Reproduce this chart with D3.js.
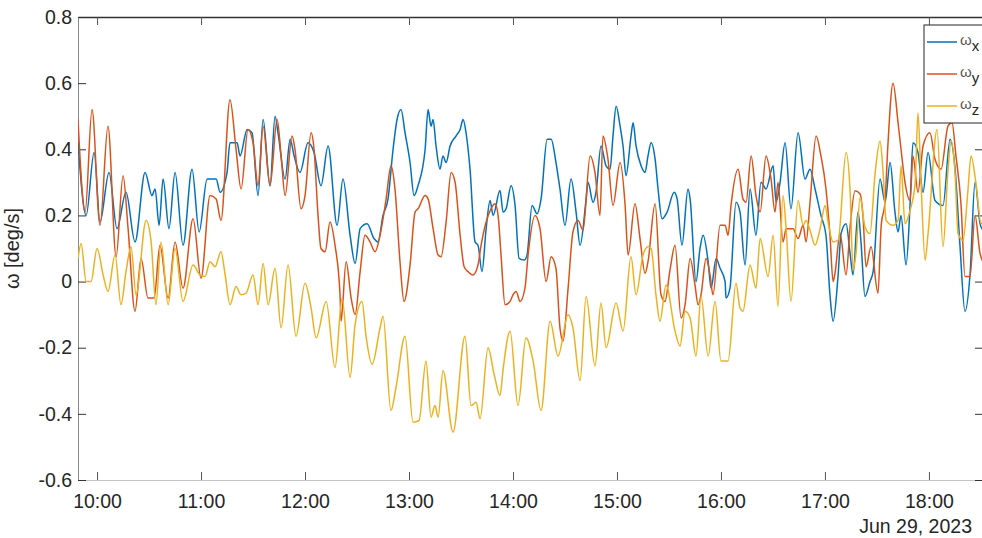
<html>
<head>
  <script src="https://d3js.org/d3.v7.min.js"></script>
  <style>
    body { margin: 0; background: #fff; font-family: Arial, "Liberation Sans", sans-serif; }
    .tick text { fill: #262626; font-size: 19.5px; font-family: Arial, "Liberation Sans", sans-serif; }
  </style>
</head>
<body>
<svg id="chart" width="982" height="538"></svg>
<script>
// time = minutes after 10:00 on Jun 29, 2023, value = deg/s
const wx = [[-11.0,0.42],[-6.3,0.20],[-1.7,0.39],[1.7,0.18],[6.9,0.33],[11.5,0.16],[16.7,0.27],[21.9,0.12],[27.7,0.33],[31.7,0.26],[33.5,0.28],[35.8,0.17],[38.1,0.31],[41.5,0.16],[45.0,0.33],[49.6,0.11],[54.8,0.34],[58.9,0.15],[63.5,0.31],[68.7,0.31],[71.0,0.27],[75.0,0.33],[76.7,0.42],[80.8,0.42],[82.5,0.38],[86.6,0.46],[89.4,0.45],[92.9,0.26],[95.8,0.49],[99.8,0.29],[102.7,0.50],[104.4,0.45],[108.5,0.31],[111.4,0.43],[113.7,0.38],[117.1,0.33],[121.7,0.42],[125.2,0.39],[129.2,0.29],[133.3,0.41],[138.5,0.17],[141.9,0.31],[146.0,0.14],[148.9,0.055],[151.8,0.16],[155.8,0.175],[159.8,0.13],[162.1,0.12],[165.0,0.20],[167.9,0.25],[170.8,0.40],[173.1,0.49],[175.4,0.52],[177.7,0.45],[180.6,0.36],[182.9,0.26],[185.2,0.29],[189.3,0.40],[191.0,0.52],[192.7,0.47],[193.9,0.49],[195.6,0.41],[197.9,0.34],[199.6,0.38],[201.4,0.36],[203.7,0.41],[207.1,0.44],[209.5,0.46],[211.2,0.49],[212.9,0.45],[215.2,0.34],[218.1,0.12],[219.8,0.11],[222.1,0.03],[224.5,0.16],[226.8,0.245],[228.5,0.20],[232.5,0.275],[234.3,0.21],[236.0,0.22],[238.9,0.29],[241.2,0.23],[243.5,0.07],[246.4,0.065],[248.1,0.08],[251.0,0.23],[253.9,0.205],[256.2,0.25],[259.7,0.43],[262.0,0.43],[264.8,0.36],[267.1,0.28],[270.0,0.17],[273.5,0.31],[276.4,0.21],[278.7,0.11],[282.2,0.25],[283.3,0.30],[286.2,0.24],[287.9,0.27],[290.8,0.41],[293.7,0.35],[296.0,0.34],[297.7,0.44],[299.5,0.53],[301.8,0.47],[303.5,0.41],[305.2,0.32],[308.1,0.44],[309.3,0.48],[311.0,0.41],[313.9,0.35],[316.2,0.33],[317.9,0.38],[319.7,0.42],[322.0,0.37],[323.7,0.28],[326.0,0.19],[328.9,0.21],[333.0,0.27],[334.7,0.25],[337.5,0.11],[341.0,0.28],[342.2,0.25],[345.6,0.00],[347.9,0.10],[349.7,0.14],[352.6,0.06],[354.3,-0.02],[357.2,0.07],[359.5,0.04],[362.4,0.00],[362.9,-0.05],[365.2,-0.02],[368.7,0.24],[371.0,0.21],[373.9,0.05],[376.8,0.28],[380.2,0.14],[383.1,0.30],[386.0,0.28],[390.1,0.35],[391.8,0.24],[394.1,0.30],[397.0,0.42],[400.4,0.22],[404.5,0.45],[408.5,0.31],[411.4,0.34],[414.3,0.28],[417.7,0.20],[420.6,0.14],[422.9,-0.04],[424.7,-0.12],[427.6,0.02],[429.3,0.145],[432.2,0.175],[434.5,0.085],[436.2,0.02],[439.1,0.21],[440.8,0.12],[443.1,-0.045],[446.0,0.00],[447.8,0.03],[451.8,0.31],[454.7,0.24],[457.6,0.36],[460.4,0.21],[462.2,0.15],[463.9,0.20],[466.8,0.05],[469.1,0.23],[470.8,0.42],[473.7,0.39],[476.6,0.27],[479.5,0.39],[483.5,0.245],[488.1,0.23],[492.2,0.43],[495.1,0.34],[497.9,0.11],[500.8,-0.09],[503.7,0.02],[506.6,0.30],[509.5,0.175],[511.2,0.155]];

const wy = [[-11.0,0.49],[-6.9,0.21],[-2.9,0.52],[1.7,0.17],[6.3,0.47],[11.0,0.075],[15.0,0.32],[17.9,0.16],[21.9,-0.09],[25.4,0.07],[29.4,-0.05],[32.9,-0.05],[36.3,0.11],[41.0,-0.05],[45.0,0.12],[49.6,-0.02],[55.4,0.19],[60.0,0.01],[65.2,0.26],[68.7,0.25],[71.5,0.185],[76.7,0.55],[80.2,0.40],[83.1,0.28],[87.1,0.46],[90.0,0.42],[92.9,0.29],[95.8,0.47],[99.8,0.29],[103.9,0.49],[106.2,0.38],[108.5,0.26],[112.5,0.44],[114.2,0.40],[117.7,0.22],[120.0,0.26],[123.5,0.45],[125.2,0.40],[127.5,0.20],[129.2,0.10],[131.6,0.09],[134.4,0.18],[137.3,0.11],[140.2,-0.04],[140.8,-0.12],[143.7,0.06],[146.6,-0.05],[148.9,-0.10],[151.8,0.03],[154.6,0.14],[157.5,0.12],[160.4,0.09],[163.3,0.14],[166.8,0.25],[169.6,0.35],[171.9,0.28],[174.8,0.06],[177.1,-0.06],[180.6,0.05],[183.5,0.21],[185.2,0.22],[189.3,0.26],[191.0,0.25],[193.9,0.16],[196.8,0.08],[198.5,0.075],[201.4,0.18],[204.3,0.33],[206.6,0.30],[209.5,0.14],[211.8,0.045],[214.1,0.03],[216.9,0.02],[219.8,0.05],[221.6,0.11],[224.5,0.18],[227.3,0.22],[229.6,0.235],[231.4,0.20],[233.1,0.08],[235.4,-0.07],[238.3,-0.06],[240.0,-0.04],[241.8,-0.03],[244.1,-0.06],[246.9,-0.02],[248.7,0.08],[252.7,0.20],[255.6,0.16],[259.1,0.00],[262.0,0.075],[264.8,0.04],[267.1,-0.14],[268.9,-0.18],[271.8,-0.02],[274.6,0.15],[277.5,0.185],[280.4,0.155],[284.5,0.38],[287.3,0.33],[290.2,0.20],[291.9,0.44],[294.8,0.37],[297.7,0.23],[301.8,0.36],[304.7,0.23],[306.4,0.08],[310.4,0.235],[313.3,0.13],[316.2,0.025],[317.9,0.06],[322.0,0.235],[325.4,-0.04],[327.7,-0.06],[330.6,0.035],[333.5,0.11],[337.0,-0.11],[339.3,-0.07],[342.2,0.07],[345.0,-0.01],[346.8,-0.07],[348.5,-0.04],[351.4,0.07],[353.7,0.02],[355.4,-0.04],[359.5,0.17],[362.4,0.17],[364.1,0.14],[365.8,0.23],[369.9,0.34],[372.7,0.25],[374.5,0.24],[377.4,0.38],[380.2,0.26],[382.6,0.21],[386.0,0.38],[388.9,0.31],[391.2,0.21],[392.9,0.30],[395.8,0.12],[397.6,0.16],[401.6,0.16],[404.5,0.13],[407.4,0.17],[409.1,0.12],[411.4,0.24],[414.9,0.44],[417.7,0.38],[420.6,0.28],[422.9,0.14],[424.7,0.00],[425.8,0.025],[428.7,0.145],[432.2,0.02],[434.5,0.165],[437.4,0.275],[440.3,0.265],[442.0,0.195],[443.7,0.045],[446.6,0.105],[450.6,-0.035],[452.4,0.165],[454.7,0.245],[456.4,0.42],[459.3,0.60],[462.2,0.48],[463.9,0.40],[466.2,0.30],[469.1,0.245],[470.8,0.38],[473.7,0.27],[476.6,0.41],[480.6,0.45],[483.5,0.37],[487.0,0.34],[491.0,0.47],[493.3,0.48],[495.6,0.38],[498.5,0.235],[500.8,0.015],[503.7,0.015],[506.6,0.20],[509.5,0.085],[511.2,0.06]];

const wz = [[-11.0,0.07],[-9.2,0.115],[-6.3,0.00],[-3.5,0.00],[0,0.10],[3.5,0.02],[6.3,-0.03],[10.4,0.08],[13.8,-0.07],[16.7,0.03],[19.6,0.105],[22.5,-0.04],[28.3,0.185],[31.2,0.12],[34.0,-0.07],[36.9,0.12],[41.0,-0.07],[45.0,0.10],[49.6,-0.06],[55.4,0.05],[59.4,0.02],[62.3,0.015],[65.2,0.06],[68.1,0.045],[71.5,0.09],[73.9,0.02],[76.7,-0.07],[80.2,-0.015],[83.1,-0.04],[86.0,-0.035],[90.0,0.02],[92.9,-0.07],[95.8,0.055],[98.7,-0.07],[102.7,0.04],[106.2,-0.14],[110.2,0.05],[114.8,-0.165],[120.0,-0.005],[123.5,-0.08],[126.4,-0.17],[132.2,-0.06],[137.3,-0.26],[141.4,-0.05],[146.0,-0.29],[148.9,-0.13],[152.9,-0.06],[155.2,-0.165],[158.7,-0.25],[163.3,-0.14],[165.0,-0.105],[169.6,-0.39],[172.5,-0.32],[177.7,-0.165],[182.3,-0.425],[185.8,-0.42],[189.8,-0.24],[192.7,-0.41],[195.0,-0.375],[196.8,-0.41],[199.6,-0.27],[205.4,-0.455],[212.3,-0.165],[215.8,-0.375],[218.7,-0.365],[221.0,-0.415],[225.6,-0.20],[229.1,-0.28],[232.5,-0.345],[234.3,-0.265],[238.3,-0.15],[242.9,-0.375],[247.5,-0.17],[251.6,-0.24],[256.2,-0.39],[261.4,-0.12],[266.0,-0.225],[271.8,-0.10],[274.6,-0.14],[278.7,-0.30],[282.2,-0.045],[287.3,-0.255],[290.8,-0.065],[293.7,-0.20],[299.5,-0.065],[303.5,-0.15],[308.1,0.075],[311.0,-0.04],[315.0,0.08],[317.9,0.105],[319.7,0.10],[322.5,-0.04],[324.8,-0.12],[328.3,-0.01],[333.5,-0.15],[336.4,-0.195],[339.3,-0.09],[342.2,-0.11],[345.6,-0.225],[348.5,-0.045],[352.6,-0.225],[356.6,-0.06],[360.0,-0.24],[364.1,-0.24],[368.7,-0.005],[371.0,-0.08],[372.7,-0.09],[376.8,0.05],[380.2,-0.02],[382.6,0.13],[387.2,0.015],[390.1,0.14],[392.9,-0.075],[395.8,0.26],[397.6,0.16],[400.4,-0.06],[404.5,0.245],[407.4,0.17],[409.1,0.185],[411.4,0.155],[414.3,0.11],[417.2,0.16],[420.1,0.23],[421.8,0.18],[424.7,0.12],[427.6,0.125],[432.2,0.39],[434.5,0.275],[436.2,0.035],[437.9,0.085],[440.3,0.255],[443.1,0.165],[446.0,0.145],[448.9,0.325],[451.8,0.425],[453.5,0.335],[455.3,0.185],[459.3,0.17],[462.2,0.185],[463.9,0.35],[466.2,0.175],[469.1,0.215],[472.0,0.295],[473.7,0.51],[475.4,0.305],[477.8,0.065],[479.5,0.145],[484.7,0.46],[488.1,0.105],[491.0,0.335],[492.8,0.425],[495.1,0.325],[496.8,0.145],[499.7,0.125],[502.5,0.275],[504.3,0.38],[507.2,0.295],[510.1,0.175],[511.2,0.185]];

const hourTicks = [10, 11, 12, 13, 14, 15, 16, 17, 18];
const yTicks = [-0.6, -0.4, -0.2, 0, 0.2, 0.4, 0.6, 0.8];
const subscripts = ["x", "y", "z"];
const colors = ["#0072BD", "#D95319", "#EDB120"];

const day = new Date(2023, 5, 29, 10, 0, 0);
const toDate = m => new Date(day.getTime() + m * 60000);

const svg = d3.select("#chart");
const plotLeft = 78, plotRight = 983, plotTop = 17, plotBottom = 480;

const x = d3.scaleTime().domain([toDate(-11), toDate(511.2)]).range([plotLeft, plotRight]);
const y = d3.scaleLinear().domain([-0.6, 0.8]).range([plotBottom, plotTop]);

svg.append("clipPath").attr("id", "plotclip")
  .append("rect").attr("x", plotLeft).attr("y", plotTop)
  .attr("width", plotRight - plotLeft).attr("height", plotBottom - plotTop);

const tickDates = hourTicks.map(h => new Date(2023, 5, 29, h, 0, 0));

// bottom axis
const xAxis = svg.append("g").attr("transform", `translate(0,${plotBottom})`)
  .call(d3.axisBottom(x).tickValues(tickDates).tickFormat(d3.timeFormat("%H:%M"))
        .tickSizeInner(-8).tickSizeOuter(0).tickPadding(14));
xAxis.select(".domain").attr("stroke", "#c4c4c4");
xAxis.selectAll(".tick line").attr("stroke", "#555");

// top axis
const xTop = svg.append("g").attr("transform", `translate(0,${plotTop})`)
  .call(d3.axisTop(x).tickValues(tickDates).tickFormat("").tickSizeInner(-8).tickSizeOuter(0));
xTop.select(".domain").attr("stroke", "#333").attr("stroke-width", 1.3);
xTop.selectAll(".tick line").attr("stroke", "#555");

// left axis
const yAxis = svg.append("g").attr("transform", `translate(${plotLeft},0)`)
  .call(d3.axisLeft(y).tickValues(yTicks)
        .tickFormat(d => d === 0 ? "0" : d3.format(".1f")(d).replace("−", "-"))
        .tickSizeInner(-8).tickSizeOuter(0).tickPadding(6));
yAxis.select(".domain").attr("stroke", "#8a8a8a");
yAxis.selectAll(".tick line").attr("stroke", "#333");

// right axis ticks (mostly outside the picture)
svg.append("g").attr("transform", `translate(${plotRight},0)`)
  .call(d3.axisRight(y).tickValues(yTicks).tickFormat("").tickSizeInner(-8).tickSizeOuter(0))
  .call(g => g.select(".domain").attr("stroke", "#333"))
  .selectAll(".tick line").attr("stroke", "#333");

// lines
const line = d3.line().curve(d3.curveMonotoneX)
  .x(d => x(toDate(d[0]))).y(d => y(d[1]));
const plot = svg.append("g").attr("clip-path", "url(#plotclip)");
[wx, wy, wz].forEach((s, i) => {
  plot.append("path").datum(s)
    .attr("fill", "none")
    .attr("stroke", colors[i])
    .attr("stroke-width", 1.5)
    .attr("stroke-linejoin", "round")
    .attr("d", line);
});

// y label
svg.append("text")
  .attr("transform", `translate(19,${(plotTop + plotBottom) / 2}) rotate(-90)`)
  .attr("text-anchor", "middle")
  .attr("fill", "#262626")
  .style("font-size", "20px")
  .text("ω [deg/s]");

// date label
svg.append("text")
  .attr("x", 972).attr("y", 533)
  .attr("text-anchor", "end")
  .attr("fill", "#262626")
  .style("font-size", "19.5px")
  .text("Jun 29, 2023");

// legend
const legend = svg.append("g");
legend.append("rect")
  .attr("x", 924).attr("y", 25).attr("width", 70).attr("height", 98)
  .attr("fill", "#fff").attr("stroke", "#262626").attr("stroke-width", 1);

subscripts.forEach((s, i) => {
  const ly = 42 + i * 32;
  legend.append("line")
    .attr("x1", 927).attr("x2", 957).attr("y1", ly).attr("y2", ly)
    .attr("stroke", colors[i]).attr("stroke-width", 1.5);
  const t = legend.append("text")
    .attr("x", 960).attr("y", ly + 3)
    .attr("fill", "#262626")
    .style("font-size", "15px");
  t.append("tspan").attr("fill", "#555").text("ω");
  t.append("tspan").attr("dy", 6).style("font-size", "15px").text(s);
});
</script>
</body>
</html>
